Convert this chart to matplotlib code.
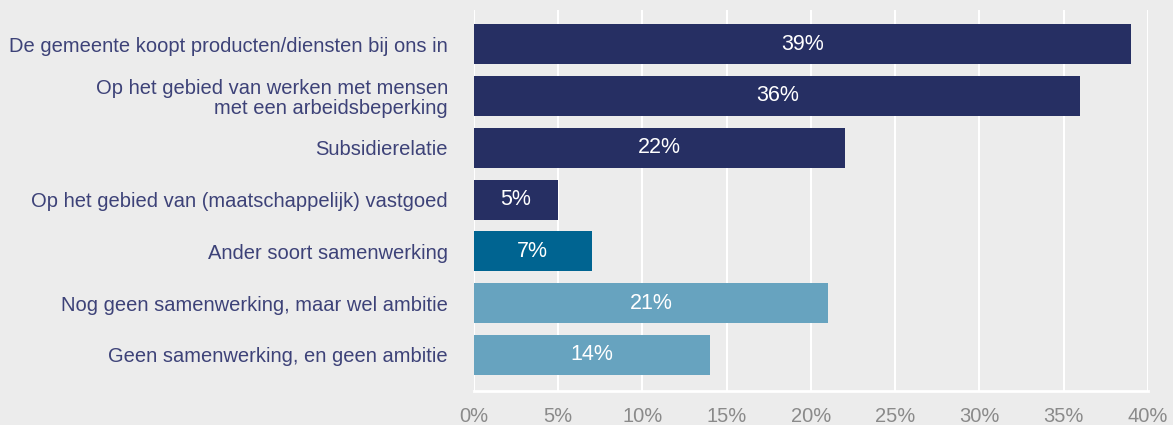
import matplotlib.pyplot as plt
from matplotlib.ticker import MultipleLocator, FuncFormatter

categories = [
    'De gemeente koopt producten/diensten bij ons in',
    'Op het gebied van werken met mensen\nmet een arbeidsbeperking',
    'Subsidierelatie',
    'Op het gebied van (maatschappelijk) vastgoed',
    'Ander soort samenwerking',
    'Nog geen samenwerking, maar wel ambitie',
    'Geen samenwerking, en geen ambitie',
]
percentages = [39, 36, 22, 5, 7, 21, 14]
bar_colors = ['#262f63', '#262f63', '#262f63', '#262f63', '#006491', '#67a3bf', '#67a3bf']

BG = '#ececec'

plt.rcParams['font.family'] = ['Liberation Sans', 'DejaVu Sans']

fig = plt.figure(figsize=(11.73, 4.25), dpi=100, facecolor=BG)
ax = fig.add_axes([0.404, 0.08, 0.5746, 0.896], facecolor=BG)

ypos = list(range(len(categories)))
bars = ax.barh(ypos, percentages, height=0.77, color=bar_colors, zorder=3)

for bar, val in zip(bars, percentages):
    ax.text(bar.get_width() / 2, bar.get_y() + bar.get_height() / 2, f'{val}%',
            ha='center', va='center', color='white', fontsize=15.5, zorder=4)

ax.set_xlim(0, 40)
ax.set_ylim(6.695, -0.656)
ax.xaxis.set_major_locator(MultipleLocator(5))
ax.xaxis.set_major_formatter(FuncFormatter(lambda v, _: f'{v:.0f}%'))
ax.grid(axis='x', color='white', linewidth=1.5, zorder=1)

ax.set_yticks(ypos)
ax.set_yticklabels(categories, color='#3d4278', fontsize=14.5, linespacing=1.05)
ax.tick_params(axis='y', length=0, pad=18.7)
ax.tick_params(axis='x', length=0, pad=11.5, labelcolor='#8a8a8a', labelsize=14.5)

for side in ['top', 'right', 'left']:
    ax.spines[side].set_visible(False)
ax.spines['bottom'].set_color('white')
ax.spines['bottom'].set_linewidth(2)
ax.spines['bottom'].set_zorder(2)

plt.savefig('out.png', dpi=100, facecolor=BG)
